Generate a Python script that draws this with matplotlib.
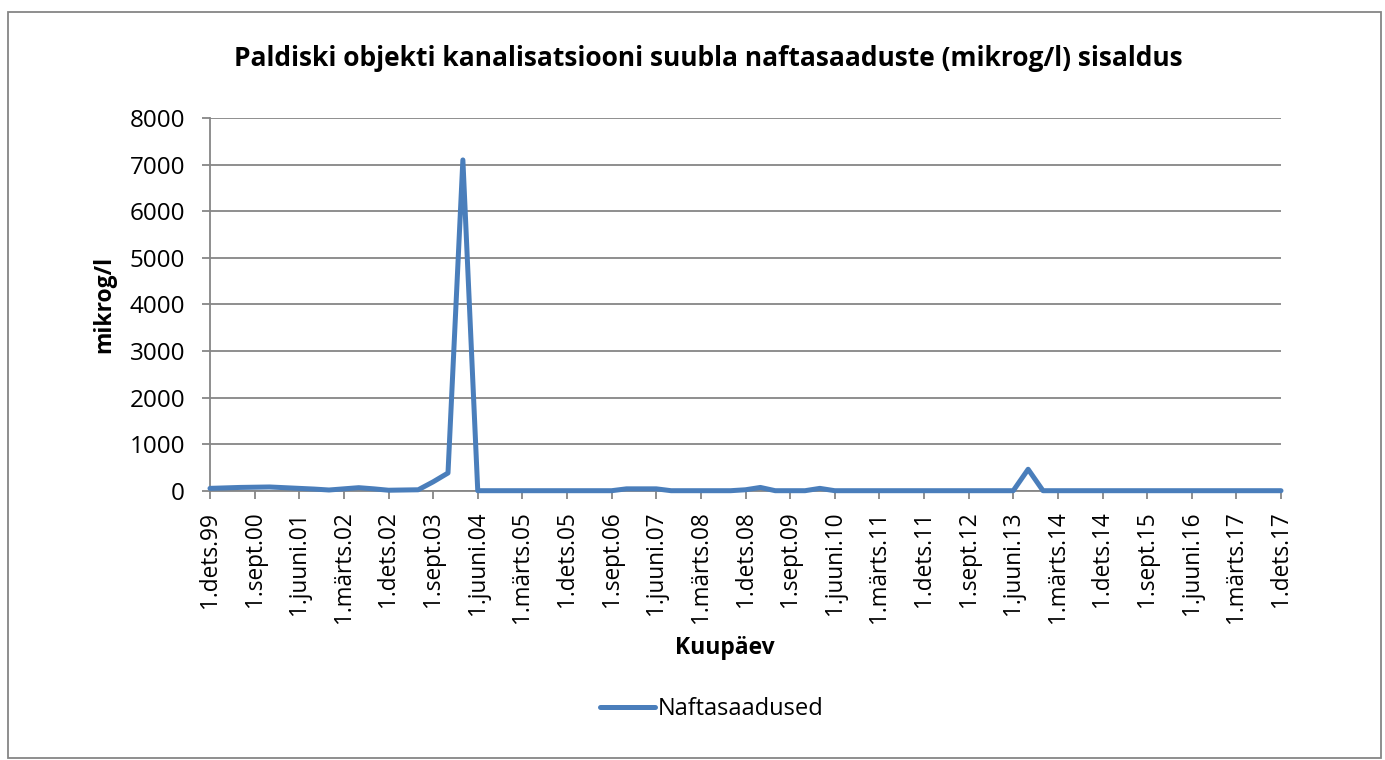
import matplotlib
matplotlib.use("Agg")
import matplotlib.pyplot as plt
from matplotlib.patches import Rectangle
import numpy as np

# quarterly sample dates 1.dets.99 ... 1.dets.17 (73 points)
tick_labels = ["1.dets.99", "1.sept.00", "1.juuni.01", "1.märts.02", "1.dets.02",
               "1.sept.03", "1.juuni.04", "1.märts.05", "1.dets.05", "1.sept.06",
               "1.juuni.07", "1.märts.08", "1.dets.08", "1.sept.09", "1.juuni.10",
               "1.märts.11", "1.dets.11", "1.sept.12", "1.juuni.13", "1.märts.14",
               "1.dets.14", "1.sept.15", "1.juuni.16", "1.märts.17", "1.dets.17"]

naftasaadused = [50, 60, 70, 75, 80, 65, 50, 35, 15, 40,
                 65, 40, 10, 15, 20, 190, 380, 7100, 0, 0,
                 0, 0, 0, 0, 0, 0, 0, 0, 40, 40,
                 40, 0, 0, 0, 0, 0, 20, 70, 0, 0,
                 0, 50, 0, 0, 0, 0, 0, 0, 0, 0,
                 0, 0, 0, 0, 0, 460, 0, 0, 0, 0,
                 0, 0, 0, 0, 0, 0, 0, 0, 0, 0,
                 0, 0, 0]

title = "Paldiski objekti kanalisatsiooni suubla naftasaaduste (mikrog/l) sisaldus"
series_name = "Naftasaadused"
x_title = "Kuupäev"
y_title = "mikrog/l"

W, H = 1385, 760
plt.rcParams['font.family'] = ['Open Sans', 'DejaVu Sans']

fig = plt.figure(figsize=(W / 100, H / 100), dpi=100)
fig.patch.set_facecolor("white")

# outer chart border
fig.patches.append(Rectangle((8 / W, 1 - 758 / H), (1381 - 8) / W, (758 - 12) / H,
                             transform=fig.transFigure, fill=False,
                             edgecolor="#868686", linewidth=1.3))

left, right, top, bottom = 210, 1281, 118, 490.7
ax = fig.add_axes([left / W, 1 - bottom / H, (right - left) / W, (bottom - top) / H])

grid_c = "#868686"
x = np.arange(len(naftasaadused))
ax.plot(x, naftasaadused, color="#4A7EBB", linewidth=3.6,
        solid_joinstyle="round", solid_capstyle="round", label=series_name,
        zorder=3, clip_on=False)

ax.set_xlim(0, len(naftasaadused) - 1)
ax.set_ylim(0, 8000)
ax.set_yticks(np.arange(0, 8001, 1000))
ax.yaxis.grid(True, color=grid_c, linewidth=1.3)
ax.set_axisbelow(True)

ax.set_xticks(np.arange(0, len(naftasaadused), 3))
ax.set_xticklabels(tick_labels, rotation=90, fontsize=16.3)
ax.tick_params(axis="y", labelsize=17.5, length=6, width=1.3, color=grid_c, pad=12)
ax.tick_params(axis="x", length=6, width=1.3, color=grid_c, pad=9)

for s in ["top", "right"]:
    ax.spines[s].set_visible(False)
for s in ["left", "bottom"]:
    ax.spines[s].set_color(grid_c)
    ax.spines[s].set_linewidth(1.3)

fig.text(708 / W, 1 - 58 / H, title, ha="center", va="center",
         fontsize=19, fontweight="bold")
fig.text(104 / W, 1 - 304 / H, y_title, ha="center", va="center",
         rotation=90, fontsize=16.5, fontweight="bold")
fig.text(725 / W, 1 - 648 / H, x_title, ha="center", va="center",
         fontsize=16.5, fontweight="bold")

fig.legend(loc="center", bbox_to_anchor=(712 / W, 1 - 709 / H), frameon=False,
           fontsize=17, handlelength=2.3, handletextpad=0.15)

fig.savefig("out.png", dpi=100)
